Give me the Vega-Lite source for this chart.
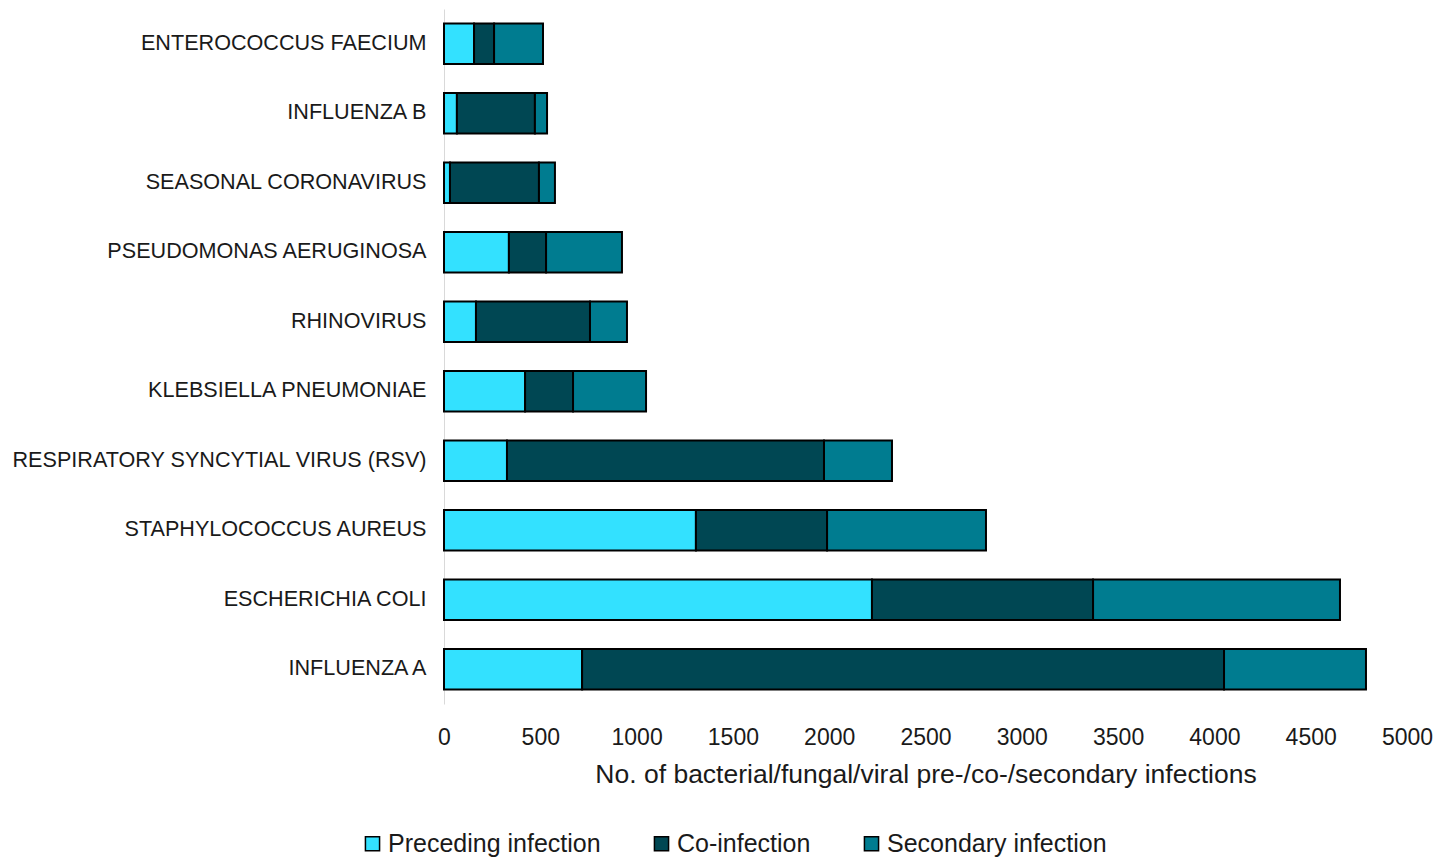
{
  "$schema": "https://vega.github.io/schema/vega-lite/v6.json",
  "width": 963,
  "height": 695,
  "autosize": {"type": "none"},
  "padding": {"left": 444, "top": 9, "right": 34, "bottom": 161},
  "background": "white",
  "config": {
    "font": "Liberation Sans",
    "view": {"stroke": null}
  },
  "data": {
    "values": [
      {"organism": "ENTEROCOCCUS FAECIUM", "type": "Preceding infection", "ord": 1, "n": 156},
      {"organism": "ENTEROCOCCUS FAECIUM", "type": "Co-infection", "ord": 2, "n": 104},
      {"organism": "ENTEROCOCCUS FAECIUM", "type": "Secondary infection", "ord": 3, "n": 254},
      {"organism": "INFLUENZA B", "type": "Preceding infection", "ord": 1, "n": 67},
      {"organism": "INFLUENZA B", "type": "Co-infection", "ord": 2, "n": 405},
      {"organism": "INFLUENZA B", "type": "Secondary infection", "ord": 3, "n": 63},
      {"organism": "SEASONAL CORONAVIRUS", "type": "Preceding infection", "ord": 1, "n": 31},
      {"organism": "SEASONAL CORONAVIRUS", "type": "Co-infection", "ord": 2, "n": 462},
      {"organism": "SEASONAL CORONAVIRUS", "type": "Secondary infection", "ord": 3, "n": 83},
      {"organism": "PSEUDOMONAS AERUGINOSA", "type": "Preceding infection", "ord": 1, "n": 337},
      {"organism": "PSEUDOMONAS AERUGINOSA", "type": "Co-infection", "ord": 2, "n": 193},
      {"organism": "PSEUDOMONAS AERUGINOSA", "type": "Secondary infection", "ord": 3, "n": 394},
      {"organism": "RHINOVIRUS", "type": "Preceding infection", "ord": 1, "n": 166},
      {"organism": "RHINOVIRUS", "type": "Co-infection", "ord": 2, "n": 592},
      {"organism": "RHINOVIRUS", "type": "Secondary infection", "ord": 3, "n": 192},
      {"organism": "KLEBSIELLA PNEUMONIAE", "type": "Preceding infection", "ord": 1, "n": 421},
      {"organism": "KLEBSIELLA PNEUMONIAE", "type": "Co-infection", "ord": 2, "n": 249},
      {"organism": "KLEBSIELLA PNEUMONIAE", "type": "Secondary infection", "ord": 3, "n": 379},
      {"organism": "RESPIRATORY SYNCYTIAL VIRUS (RSV)", "type": "Preceding infection", "ord": 1, "n": 327},
      {"organism": "RESPIRATORY SYNCYTIAL VIRUS (RSV)", "type": "Co-infection", "ord": 2, "n": 1646},
      {"organism": "RESPIRATORY SYNCYTIAL VIRUS (RSV)", "type": "Secondary infection", "ord": 3, "n": 353},
      {"organism": "STAPHYLOCOCCUS AUREUS", "type": "Preceding infection", "ord": 1, "n": 1308},
      {"organism": "STAPHYLOCOCCUS AUREUS", "type": "Co-infection", "ord": 2, "n": 681},
      {"organism": "STAPHYLOCOCCUS AUREUS", "type": "Secondary infection", "ord": 3, "n": 825},
      {"organism": "ESCHERICHIA COLI", "type": "Preceding infection", "ord": 1, "n": 2222},
      {"organism": "ESCHERICHIA COLI", "type": "Co-infection", "ord": 2, "n": 1148},
      {"organism": "ESCHERICHIA COLI", "type": "Secondary infection", "ord": 3, "n": 1282},
      {"organism": "INFLUENZA A", "type": "Preceding infection", "ord": 1, "n": 717},
      {"organism": "INFLUENZA A", "type": "Co-infection", "ord": 2, "n": 3333},
      {"organism": "INFLUENZA A", "type": "Secondary infection", "ord": 3, "n": 737}
    ]
  },
  "mark": {"type": "bar", "stroke": "black", "strokeWidth": 2},
  "encoding": {
    "y": {
      "field": "organism",
      "type": "nominal",
      "sort": null,
      "scale": {"paddingInner": 0.42, "paddingOuter": 0.21},
      "axis": {
        "title": null,
        "ticks": false,
        "domainColor": "#d9d9d9",
        "domainWidth": 1,
        "labelFontSize": 21.6,
        "labelColor": "#1a1a1a",
        "labelPadding": 18,
        "labelLimit": 500
      }
    },
    "x": {
      "field": "n",
      "type": "quantitative",
      "stack": "zero",
      "scale": {"domain": [0, 5000], "nice": false},
      "axis": {
        "values": [0, 500, 1000, 1500, 2000, 2500, 3000, 3500, 4000, 4500, 5000],
        "format": "d",
        "grid": false,
        "domain": false,
        "ticks": false,
        "labelFontSize": 23,
        "labelColor": "#1a1a1a",
        "labelPadding": 22,
        "labelFlush": false,
        "title": "No. of bacterial/fungal/viral pre-/co-/secondary infections",
        "titleFontSize": 26.5,
        "titleFontWeight": "normal",
        "titleColor": "#1a1a1a",
        "titlePadding": 12
      }
    },
    "color": {
      "field": "type",
      "type": "nominal",
      "sort": ["Preceding infection", "Co-infection", "Secondary infection"],
      "scale": {
        "domain": ["Preceding infection", "Co-infection", "Secondary infection"],
        "range": ["#33E1FF", "#004753", "#007C90"]
      },
      "legend": {
        "title": null,
        "orient": "none",
        "direction": "horizontal",
        "legendX": -84,
        "legendY": 822,
        "symbolType": "square",
        "symbolSize": 200,
        "symbolStrokeColor": "black",
        "symbolStrokeWidth": 1.5,
        "symbolOpacity": 1,
        "labelFontSize": 25,
        "labelColor": "#1a1a1a",
        "labelOffset": 3,
        "columnPadding": 48,
        "labelLimit": 400
      }
    },
    "order": {"field": "ord", "type": "quantitative"}
  }
}
